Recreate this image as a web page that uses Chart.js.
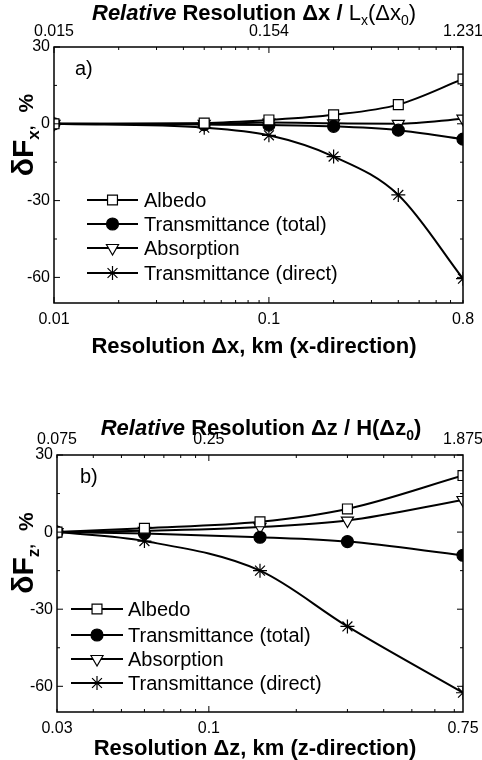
<!DOCTYPE html>
<html>
<head>
<meta charset="utf-8">
<script src="https://cdn.jsdelivr.net/npm/chart.js@4.4.0/dist/chart.umd.min.js"></script>
<style>
html, body { margin: 0; padding: 0; background: #fff; }
.panel { position: absolute; left: 0; width: 482px; height: 380px; }
</style>
</head>
<body>
<div class="panel" style="top:0"><canvas id="chartA" width="482" height="380"></canvas></div>
<div class="panel" style="top:380px"><canvas id="chartB" width="482" height="380"></canvas></div>
<script>
// panel a) - horizontal resolution
const xA = [0.01, 0.05, 0.1, 0.2, 0.4, 0.8];
const albedoA = [0, 0.3, 1.5, 3.5, 7.5, 17.5];
const transTotalA = [0, -0.3, -0.5, -1, -2.5, -6];
const absorptionA = [0, 0, 0.5, 0.2, 0, 2];
const transDirectA = [0, -1.5, -4.5, -12.8, -27.8, -60.5];
const tickValsA = [0.01, 0.1, 0.8];
const bottomLabelsA = ['0.01', '0.1', '0.8'];
const topLabelsA = ['0.015', '0.154', '1.231'];

// panel b) - vertical resolution
const xB = [0.03, 0.06, 0.15, 0.3, 0.75];
const albedoB = [0, 1.5, 4, 9, 22];
const transTotalB = [0, -0.5, -2, -3.7, -9];
const absorptionB = [0, 0.5, 2, 4.5, 12.5];
const transDirectB = [0, -3.5, -15, -36.7, -62.5];
const tickValsB = [0.03, 0.1, 0.75];
const bottomLabelsB = ['0.03', '0.1', '0.75'];
const topLabelsB = ['0.075', '0.25', '1.875'];

const yTicks = [30, 0, -30, -60];
const seriesNames = ['Albedo', 'Transmittance (total)', 'Absorption', 'Transmittance (direct)'];

const FONT = 'Arial, "Liberation Sans", sans-serif';
Chart.defaults.font.family = FONT;
Chart.defaults.color = '#000';

const markers = [
  { pointStyle: 'rect', radius: 7, rotation: 0, fill: '#fff' },
  { pointStyle: 'circle', radius: 6, rotation: 0, fill: '#000' },
  { pointStyle: 'triangle', radius: 7, rotation: 180, fill: '#fff' },
  { pointStyle: 'star', radius: 7, rotation: 0, fill: '#000' }
];

// draws a row of text pieces with mixed fonts, centred on cx
function drawRich(ctx, pieces, cx, baseline) {
  let total = 0;
  pieces.forEach(p => { ctx.font = p.font; p.w = ctx.measureText(p.t).width + (p.gap || 0); total += p.w; });
  let x = cx - total / 2;
  ctx.textAlign = 'left';
  ctx.textBaseline = 'alphabetic';
  pieces.forEach(p => {
    ctx.font = p.font;
    ctx.fillText(p.t, x + (p.gap || 0), baseline + (p.dy || 0));
    x += p.w;
  });
}

function makeDecor(cfg) {
  return {
    id: 'decor',
    afterDraw(chart) {
      const ctx = chart.ctx, a = chart.chartArea;
      const xs = chart.scales.x, ys = chart.scales.y;
      ctx.save();
      ctx.strokeStyle = '#000';
      ctx.fillStyle = '#000';
      ctx.lineWidth = 1.5;
      ctx.strokeRect(a.left, a.top, a.right - a.left, a.bottom - a.top);

      // inward tick marks on all four sides
      ctx.lineWidth = 1;
      ctx.beginPath();
      for (let n = -3; n <= 1; n++) {
        for (let k = 1; k <= 9; k++) {
          const v = k * Math.pow(10, n);
          if (v < cfg.min * 0.999 || v > cfg.max * 1.001) continue;
          const px = xs.getPixelForValue(v);
          const len = k === 1 ? 6 : 3;
          ctx.moveTo(px, a.bottom); ctx.lineTo(px, a.bottom - len);
          ctx.moveTo(px, a.top); ctx.lineTo(px, a.top + len);
        }
      }
      for (let v = -60; v <= 30; v += 15) {
        const py = ys.getPixelForValue(v);
        const len = v % 30 === 0 ? 6 : 3;
        ctx.moveTo(a.left, py); ctx.lineTo(a.left + len, py);
        ctx.moveTo(a.right, py); ctx.lineTo(a.right - len, py);
      }
      ctx.stroke();

      // titles
      drawRich(ctx, cfg.title, cfg.titleX, cfg.titleY);
      drawRich(ctx, [{ t: cfg.xTitle, font: 'bold 22px ' + FONT }], cfg.xTitleX, cfg.xTitleY);
      ctx.save();
      ctx.translate(cfg.yTitleX, cfg.yTitleY);
      ctx.rotate(-Math.PI / 2);
      drawRich(ctx, cfg.yTitle, 0, 0);
      ctx.restore();

      ctx.font = '20px ' + FONT;
      ctx.textAlign = 'left';
      ctx.fillText(cfg.tag, cfg.tagX, cfg.tagY);

      // legend inside the plot
      const L = cfg.legend;
      seriesNames.forEach((name, i) => {
        const y = L.rows[i];
        ctx.strokeStyle = '#000';
        ctx.lineWidth = 2;
        ctx.beginPath();
        ctx.moveTo(L.x0, y); ctx.lineTo(L.x1, y);
        ctx.stroke();
        const m = markers[i];
        ctx.fillStyle = m.fill;
        ctx.lineWidth = 1.2;
        Chart.helpers.drawPoint(ctx, { pointStyle: m.pointStyle, radius: m.radius, rotation: m.rotation, borderWidth: 1.2 }, (L.x0 + L.x1) / 2, y);
        ctx.fillStyle = '#000';
        ctx.font = '20px ' + FONT;
        ctx.textBaseline = 'middle';
        ctx.fillText(name, L.tx, y + 1);
        ctx.textBaseline = 'alphabetic';
      });
      ctx.restore();
    }
  };
}

function makePanel(id, xs, series, cfg) {
  const W = 482, H = 380;
  const datasets = series.map((vals, i) => ({
    label: seriesNames[i],
    data: xs.map((x, j) => ({ x: x, y: vals[j] })),
    borderColor: '#000',
    borderWidth: 2,
    backgroundColor: markers[i].fill,
    pointBackgroundColor: markers[i].fill,
    pointBorderColor: '#000',
    pointBorderWidth: 1.2,
    pointStyle: markers[i].pointStyle,
    pointRadius: markers[i].radius,
    pointRotation: markers[i].rotation,
    cubicInterpolationMode: 'monotone',
    fill: false
  }));
  const tickFont = { size: 16, family: FONT };
  const noPad = s => { s.paddingLeft = 0; s.paddingRight = 0; s.paddingTop = 0; s.paddingBottom = 0; };
  new Chart(document.getElementById(id), {
    type: 'line',
    data: { datasets: datasets },
    options: {
      responsive: false,
      animation: false,
      devicePixelRatio: 1,
      layout: { padding: { left: 0, top: 0, bottom: 0, right: W - cfg.box.right } },
      plugins: { legend: { display: false }, tooltip: { enabled: false } },
      scales: {
        x: {
          type: 'logarithmic', position: 'bottom', min: cfg.min, max: cfg.max,
          afterBuildTicks: s => { s.ticks = cfg.tickVals.map(v => ({ value: v })); },
          afterFit: s => { s.height = H - cfg.box.bottom; noPad(s); },
          grid: { display: false, drawTicks: false }, border: { display: false },
          ticks: { font: tickFont, padding: 7, maxRotation: 0, autoSkip: false, callback: (v, i) => cfg.bottomLabels[i] }
        },
        x2: {
          type: 'logarithmic', position: 'top', min: cfg.min, max: cfg.max,
          afterBuildTicks: s => { s.ticks = cfg.tickVals.map(v => ({ value: v })); },
          afterFit: s => { s.height = cfg.box.top; noPad(s); },
          grid: { display: false, drawTicks: false }, border: { display: false },
          ticks: { font: tickFont, padding: 6, maxRotation: 0, autoSkip: false, callback: (v, i) => cfg.topLabels[i] }
        },
        y: {
          type: 'linear', position: 'left', min: -70, max: 30,
          afterBuildTicks: s => { s.ticks = yTicks.map(v => ({ value: v })); },
          afterFit: s => { s.width = cfg.box.left; noPad(s); },
          grid: { display: false, drawTicks: false }, border: { display: false },
          ticks: { font: tickFont, padding: 4, callback: v => String(v) }
        }
      }
    },
    plugins: [makeDecor(cfg)]
  });
}

makePanel('chartA', xA, [albedoA, transTotalA, absorptionA, transDirectA], {
  box: { left: 54, top: 47, right: 463, bottom: 303 },
  min: 0.01, max: 0.8,
  tickVals: tickValsA, bottomLabels: bottomLabelsA, topLabels: topLabelsA,
  title: [
    { t: 'Relative', font: 'italic bold 22px ' + FONT },
    { t: ' Resolution \u0394x / ', font: 'bold 22px ' + FONT },
    { t: 'L', font: '22px ' + FONT },
    { t: 'x', font: '14px ' + FONT, dy: 5 },
    { t: '(\u0394x', font: '22px ' + FONT },
    { t: '0', font: '14px ' + FONT, dy: 5 },
    { t: ')', font: '22px ' + FONT }
  ],
  titleX: 254, titleY: 20,
  xTitle: 'Resolution \u0394x, km (x-direction)', xTitleX: 254, xTitleY: 353,
  yTitle: [
    { t: '\u03b4F', font: 'bold 30px ' + FONT },
    { t: 'x', font: 'bold 17px ' + FONT, dy: 6 },
    { t: ',', font: 'bold 17px ' + FONT, dy: 0 },
    { t: '%', font: 'bold 21px ' + FONT, gap: 13 }
  ],
  yTitleX: 33, yTitleY: 135,
  tag: 'a)', tagX: 75, tagY: 75,
  legend: { x0: 87, x1: 138, tx: 144, rows: [200, 224, 248, 273] }
});

makePanel('chartB', xB, [albedoB, transTotalB, absorptionB, transDirectB], {
  box: { left: 57, top: 75, right: 463, bottom: 332 },
  min: 0.03, max: 0.75,
  tickVals: tickValsB, bottomLabels: bottomLabelsB, topLabels: topLabelsB,
  title: [
    { t: 'Relative', font: 'italic bold 22px ' + FONT },
    { t: ' Resolution \u0394z / H(\u0394z', font: 'bold 22px ' + FONT },
    { t: '0', font: 'bold 14px ' + FONT, dy: 5 },
    { t: ')', font: 'bold 22px ' + FONT }
  ],
  titleX: 261, titleY: 55,
  xTitle: 'Resolution \u0394z, km (z-direction)', xTitleX: 255, xTitleY: 375,
  yTitle: [
    { t: '\u03b4F', font: 'bold 30px ' + FONT },
    { t: 'z', font: 'bold 17px ' + FONT, dy: 6 },
    { t: ',', font: 'bold 17px ' + FONT, dy: 0 },
    { t: '%', font: 'bold 21px ' + FONT, gap: 13 }
  ],
  yTitleX: 33, yTitleY: 173,
  tag: 'b)', tagX: 80, tagY: 103,
  legend: { x0: 71, x1: 123, tx: 128, rows: [229, 255, 279, 303] }
});
</script>
</body>
</html>
